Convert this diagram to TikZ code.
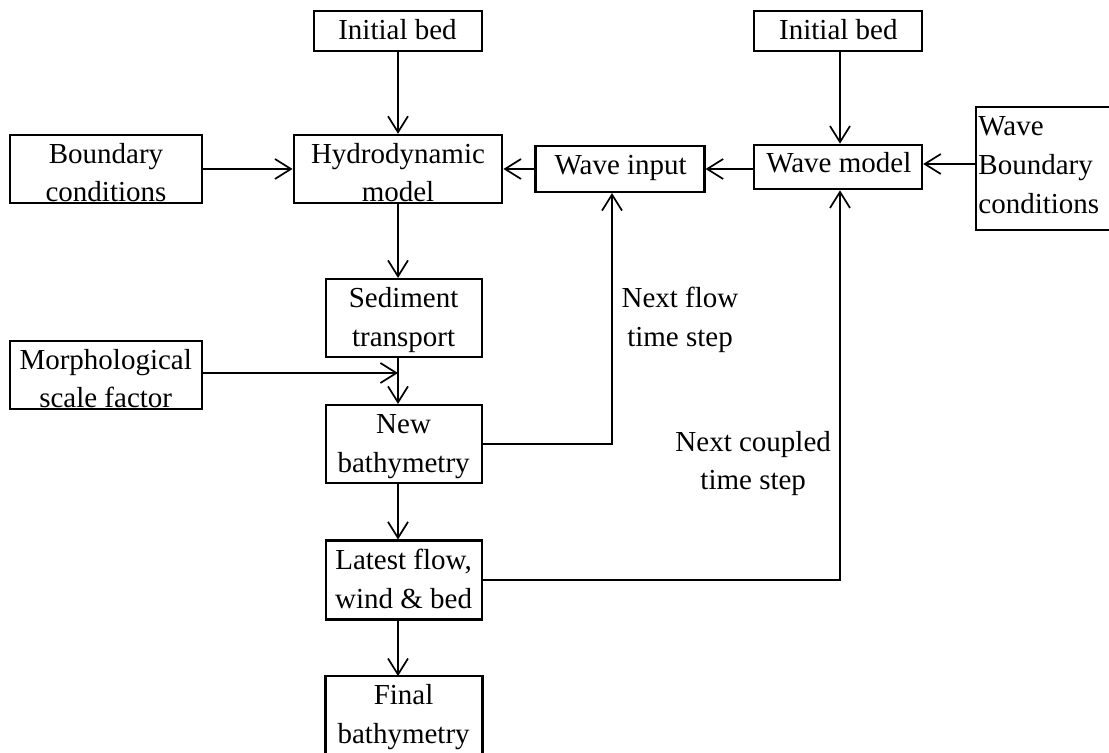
\documentclass[tikz,border=0pt]{standalone}
\usepackage{fontspec}
\setmainfont{Liberation Serif}
\usetikzlibrary{arrows.meta,calc}
\newcommand\diafont{\fontsize{14.5pt}{19.35pt}\selectfont}
\begin{document}
\begin{tikzpicture}[x=0.5pt,y=-0.5pt,
  box/.style={draw, line width=1.2pt, rectangle, inner sep=0pt},
  boxline/.style={line width=1.2pt},
  lbl/.style={inner sep=0pt, align=center, font=\diafont, anchor=base},
  arr/.style={line width=0.85pt, -{Straight Barb[length=8pt,width=10pt]}},
  conn/.style={line width=0.85pt}]
\useasboundingbox (0,0) rectangle (1109,753);
% boxes
\node[box, minimum width=84.25pt, minimum height=20pt] (ib1) at (398,31) {};
\node[box, minimum width=84pt, minimum height=20pt] (ib2) at (838,31) {};
\node[box, minimum width=96.25pt, minimum height=34pt] (bc) at (106,169) {};
\node[box, minimum width=104.25pt, minimum height=34pt] (hydro) at (398,169) {};
\node[box, minimum width=84.35pt, minimum height=22.85pt] (wi) at (620,169) {};
\node[box, minimum width=84pt, minimum height=22.15pt] (wm) at (838,167) {};
\node[box, minimum width=70pt, minimum height=61.5pt] (wbc) at (1045.8,168.5) {};
\node[box, minimum width=78.2pt, minimum height=38.85pt] (sed) at (404,318) {};
\node[box, minimum width=96.25pt, minimum height=34.15pt] (morph) at (106,375) {};
\node[box, minimum width=78.2pt, minimum height=38.85pt] (newb) at (404,444) {};
\node[box, minimum width=78.2pt, minimum height=39.3pt] (latest) at (404,580) {};
\node[minimum width=78.2pt, minimum height=39.5pt, inner sep=0pt] (final) at (404,716) {};
\draw[boxline] (final.south west) |- (final.north east) -- (final.south east);
% texts (base anchor = baseline of the last line)
\node[lbl] (ib1t) at (397.5,40) {Initial bed};
\node[lbl] (ib2t) at (838.4,40) {Initial bed};
\node[lbl] (bct) at (106,202) {Boundary\\conditions};
\node[lbl] (hydrot) at (398,202) {Hydrodynamic\\model};
\node[lbl] (wit) at (620.7,175) {Wave input};
\node[lbl] (wmt) at (838.8,172.7) {Wave model};
\node[lbl, align=left, anchor=base west] (wbct) at (978,213.3) {Wave\\Boundary\\conditions};
\node[lbl] (sedt) at (403.6,346.7) {Sediment\\transport};
\node[lbl] (morpht) at (105.7,408) {Morphological\\scale factor};
\node[lbl] (newbt) at (403.6,472.7) {New\\bathymetry};
\node[lbl] (latestt) at (403.6,608.3) {Latest flow,\\wind \& bed};
\node[lbl] (finalt) at (403.6,743.3) {Final\\bathymetry};
\node[lbl] (nflow) at (680,346.7) {Next flow\\time step};
\node[lbl] (ncoup) at (753.2,490) {Next coupled\\time step};
% connectors
\coordinate (wiin) at ([xshift=-4pt]wi.south);
\coordinate (wmin) at ([xshift=1pt]wm.south);
\draw[arr] (ib1.south) -- (hydro.north);
\draw[arr] (bc.east) -- (hydro.west);
\draw[arr] (wi.west) -- (hydro.east);
\draw[arr] (wm.west |- wi.east) -- (wi.east);
\draw[arr] ([yshift=1.5pt]wbc.west |- wm.east) -- ([yshift=1.5pt]wm.east);
\draw[arr] (ib2.south -| wmin) -- (wm.north -| wmin);
\draw[arr] (hydro.south) -- (hydro.south |- sed.north);
\draw[arr] (sed.south -| hydro.south) -- (newb.north -| hydro.south);
\draw[arr] ([yshift=1pt]morph.east) -- ([yshift=1pt]morph.east -| hydro.south);
\draw[arr] (newb.south -| hydro.south) -- (latest.north -| hydro.south);
\draw[arr] (latest.south -| hydro.south) -- (final.north -| hydro.south);
\draw[arr] (newb.east) -- (newb.east -| wiin) -- (wiin);
\draw[arr] (latest.east) -- (latest.east -| wmin) -- (wmin);
\end{tikzpicture}
\end{document}
